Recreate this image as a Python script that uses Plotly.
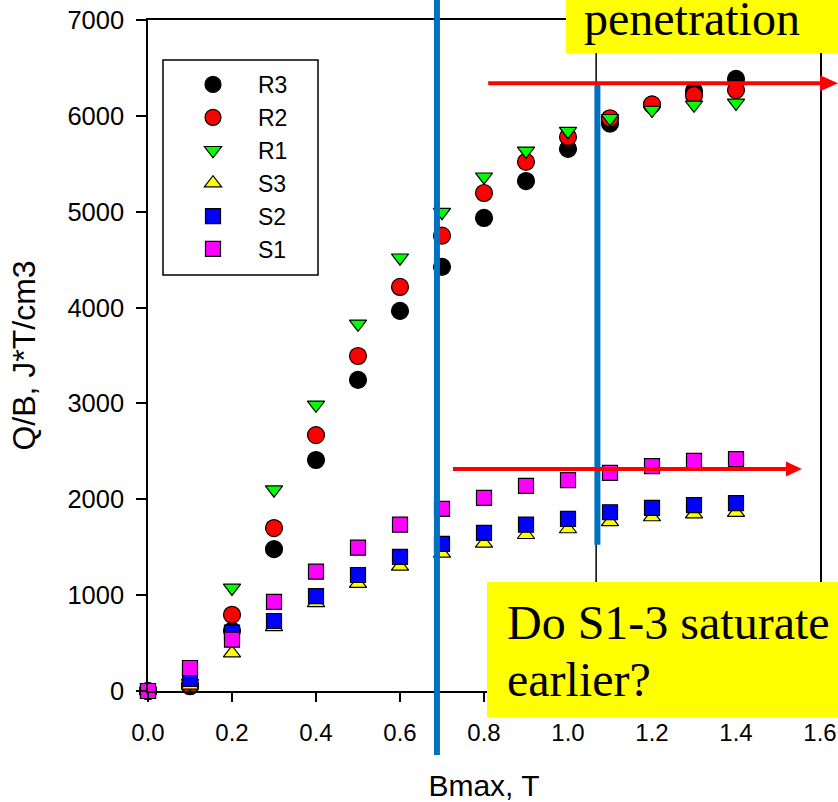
import plotly.graph_objects as go

# ---------------- data ----------------
bmax = [0.0, 0.1, 0.2, 0.3, 0.4, 0.5, 0.6, 0.7, 0.8, 0.9, 1.0, 1.1, 1.2, 1.3, 1.4]
R3 = [0, 50, 630, 1480, 2410, 3245, 3965, 4425, 4935, 5320, 5655, 5920, 6115, 6260, 6385]
R2 = [0, 60, 795, 1700, 2670, 3495, 4215, 4750, 5195, 5520, 5780, 5975, 6120, 6215, 6270]
R1 = [0, 80, 1075, 2100, 2985, 3830, 4520, 4995, 5365, 5635, 5840, 5975, 6060, 6115, 6135]
S3 = [0, 60, 395, 670, 920, 1120, 1300, 1435, 1540, 1630, 1690, 1765, 1815, 1845, 1860]
S2 = [0, 125, 610, 730, 990, 1210, 1400, 1535, 1650, 1735, 1795, 1865, 1910, 1940, 1960]
S1 = [0, 240, 535, 930, 1245, 1495, 1735, 1900, 2015, 2140, 2200, 2275, 2345, 2400, 2420]

series_names = ["R3", "R2", "R1", "S3", "S2", "S1"]
series_values = [R3, R2, R1, S3, S2, S1]
x_ticks = [0.0, 0.2, 0.4, 0.6, 0.8, 1.0, 1.2, 1.4, 1.6]
y_ticks = [0, 1000, 2000, 3000, 4000, 5000, 6000, 7000]
x_title = "Bmax, T"
y_title = "Q/B, J*T/cm3"
note_top = "penetration"
note_bottom = ["Do S1-3 saturate", "earlier?"]

# ---------------- styling ----------------
styles = {
    "R3": dict(symbol="circle", color="#000000", size=17),
    "R2": dict(symbol="circle", color="#FF0000", size=17),
    "R1": dict(symbol="triangle-down", color="#00FF00", size=15),
    "S3": dict(symbol="triangle-up", color="#FFFF00", size=15),
    "S2": dict(symbol="square", color="#0000FF", size=15),
    "S1": dict(symbol="square", color="#FF00FF", size=15),
}

W, H = 838, 802
L, R, T, B = 148, 18, 20, 111
PW, PH = W - L - R, H - T - B
XR = [0, 1.6]
YR = [0, 7000]


def px_x(px):
    return (px - L) / PW


def px_y(py):
    return (H - B - py) / PH


def dx(v):
    return (v - XR[0]) / (XR[1] - XR[0])


def dy(v):
    return (v - YR[0]) / (YR[1] - YR[0])


SANS = "Liberation Sans, Arial, sans-serif"
SERIF = "Liberation Serif, Times New Roman, serif"

fig = go.Figure()
for name, vals in zip(series_names, series_values):
    st = styles[name]
    fig.add_trace(go.Scatter(
        x=bmax, y=vals, mode="markers", name=name, cliponaxis=False,
        marker=dict(symbol=st["symbol"], color=st["color"], size=st["size"],
                    line=dict(color="black", width=1.2)),
    ))

shapes = []
# legend frame
shapes.append(dict(type="rect", xref="paper", yref="paper",
                   x0=px_x(163), x1=px_x(318), y0=px_y(275), y1=px_y(60),
                   line=dict(color="black", width=1.5), fillcolor="rgba(0,0,0,0)", layer="below"))
# thin black vertical line near 1.07 T
shapes.append(dict(type="line", xref="paper", yref="paper",
                   x0=dx(1.067), x1=dx(1.067), y0=0, y1=1,
                   line=dict(color="black", width=1.5), layer="above"))
# blue vertical lines
shapes.append(dict(type="line", xref="paper", yref="paper",
                   x0=dx(0.688), x1=dx(0.688), y0=px_y(755), y1=px_y(-5),
                   line=dict(color="#0070C0", width=6), layer="above"))
shapes.append(dict(type="line", xref="paper", yref="paper",
                   x0=dx(1.07), x1=dx(1.07), y0=dy(1525), y1=dy(6340),
                   line=dict(color="#0070C0", width=6), layer="above"))


def arrow(x0, x1, yv, head_len, head_half):
    yp = dy(yv)
    xs0, xs1 = dx(x0), dx(x1)
    hl = head_len / PW
    hh = head_half / PH
    shapes.append(dict(type="line", xref="paper", yref="paper",
                       x0=xs0, x1=xs1 - hl * 0.6, y0=yp, y1=yp,
                       line=dict(color="#FF0000", width=4), layer="above"))
    shapes.append(dict(type="path", xref="paper", yref="paper",
                       path=f"M{xs1 - hl},{yp - hh} L{xs1},{yp} L{xs1 - hl},{yp + hh} Z",
                       fillcolor="#FF0000", line=dict(color="#FF0000", width=0), layer="above"))


arrow(0.81, 1.643, 6340, 18, 8)
arrow(0.726, 1.557, 2315, 16, 7.5)

# yellow note boxes
shapes.append(dict(type="rect", xref="paper", yref="paper",
                   x0=px_x(566), x1=px_x(845), y0=px_y(53), y1=px_y(-10),
                   line=dict(width=0), fillcolor="#FFFF00", layer="above"))
shapes.append(dict(type="rect", xref="paper", yref="paper",
                   x0=px_x(487), x1=px_x(845), y0=px_y(717), y1=px_y(582),
                   line=dict(width=0), fillcolor="#FFFF00", layer="above"))

annotations = [
    dict(text=note_top, xref="paper", yref="paper", x=px_x(692), y=px_y(18),
         xanchor="center", yanchor="middle", showarrow=False, borderpad=0,
         font=dict(family=SERIF, size=48, color="black")),
    dict(text=note_bottom[0], xref="paper", yref="paper", x=px_x(506), y=px_y(622),
         xanchor="left", yanchor="middle", showarrow=False, borderpad=0,
         font=dict(family=SERIF, size=48, color="black")),
    dict(text=note_bottom[1], xref="paper", yref="paper", x=px_x(506), y=px_y(679),
         xanchor="left", yanchor="middle", showarrow=False, borderpad=0,
         font=dict(family=SERIF, size=48, color="black")),
]

fig.update_layout(
    template="none",
    width=W, height=H,
    autosize=False,
    margin=dict(l=L, r=R, t=T, b=B, pad=0, autoexpand=False),
    paper_bgcolor="white", plot_bgcolor="white",
    font=dict(family=SANS, size=24, color="black"),
    showlegend=True,
    legend=dict(x=px_x(168), y=px_y(63), xanchor="left", yanchor="top",
                bgcolor="rgba(0,0,0,0)", borderwidth=0, itemwidth=80,
                font=dict(family=SANS, size=23, color="black"), tracegroupgap=0),
    shapes=shapes,
    annotations=annotations,
)
fig.update_xaxes(range=XR, tickvals=x_ticks, ticktext=[f"{v:.1f}" for v in x_ticks],
                 automargin=False,
                 showgrid=False, zeroline=False, showline=True, linecolor="black", linewidth=1.5,
                 mirror=True, ticks="outside", ticklen=9, tickwidth=1.5, tickcolor="black",
                 tickfont=dict(family=SANS, size=24), ticklabelstandoff=10,
                 title=dict(text=x_title, font=dict(family=SANS, size=30), standoff=30))
fig.update_yaxes(range=YR, tickvals=y_ticks, ticktext=[str(v) for v in y_ticks],
                 automargin=False,
                 showgrid=False, zeroline=False, showline=True, linecolor="black", linewidth=1.5,
                 mirror=True, ticks="outside", ticklen=10, tickwidth=1.5, tickcolor="black",
                 tickfont=dict(family=SANS, size=25.5), ticklabelstandoff=7,
                 title=dict(text=y_title, font=dict(family=SANS, size=32), standoff=22))

fig.write_html(
    "out.html",
    post_script="document.body.style.margin='0';document.body.style.overflow='hidden';",
)
